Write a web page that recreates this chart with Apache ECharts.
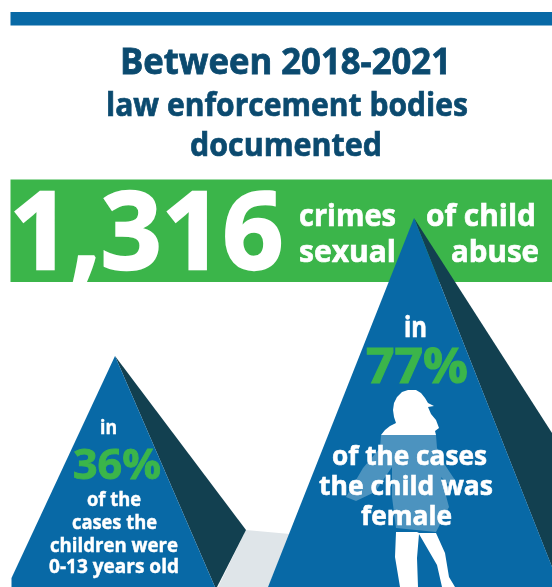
<!DOCTYPE html>
<html>
<head>
<meta charset="utf-8">
<style>html,body{margin:0;padding:0;background:#fff}#chart{width:552px;height:587px}</style>
<script src="https://cdn.jsdelivr.net/npm/echarts@6/dist/echarts.min.js"></script>
</head>
<body>
<div id="chart"></div>
<script>
// Figures reported for the period
const totalCrimes = 1316;
const caseShares = [36, 77];

// Wording
const titleLines = ['Between 2018-2021', 'law enforcement bodies', 'documented'];
const bannerWords = ['crimes', 'sexual', 'of child', 'abuse'];
const youngLines = ['of the', 'cases the', 'children were', '0-13 years old'];
const femaleLines = ['of the cases', 'the child was', 'female'];

const BLUE = '#0869a6', DARK = '#124050', GREEN = '#3bb54a', NAVY = '#0b4a6f', MIST = '#dfe5e9', VEIL = '#4c93bf';
const FAMILY = '"Open Sans", sans-serif';
const ruler = document.createElement('canvas').getContext('2d');

// One line of text: centre x, baseline y, font size, target width, colour
function line(text, cx, base, size, width, fill) {
  const font = 'bold ' + size + 'px ' + FAMILY;
  ruler.font = font;
  return { text: text, cx: cx, base: base, size: size, sx: width / ruler.measureText(text).width, font: font, fill: fill };
}

const textRows = [
  line(titleLines[0], 285.5, 74.5, 36, 331, NAVY),
  line(titleLines[1], 287, 116.5, 32, 362, NAVY),
  line(titleLines[2], 286, 156.5, 32, 192, NAVY),
  line(totalCrimes.toLocaleString('en-US'), 146.5, 271, 108, 274, '#fff'),
  line(bannerWords[0], 347.5, 226.5, 31, 97, '#fff'),
  line(bannerWords[1], 347.5, 262.5, 31, 97, '#fff'),
  line(bannerWords[2], 481, 226.5, 31, 110, '#fff'),
  line(bannerWords[3], 495, 262.5, 31, 88, '#fff'),
  line('in', 415.5, 337, 28, 23, '#fff'),
  line(caseShares[1] + '%', 417, 384, 48, 102, GREEN),
  line(femaleLines[0], 409.5, 465, 27, 155, '#fff'),
  line(femaleLines[1], 406, 495, 27, 174, '#fff'),
  line(femaleLines[2], 406.5, 525, 27, 91, '#fff'),
  line('in', 108.5, 434, 19, 17, '#fff'),
  line(caseShares[0] + '%', 117, 480, 42, 88, GREEN),
  line(youngLines[0], 114, 506, 20, 54, '#fff'),
  line(youngLines[1], 114.5, 529, 20, 85, '#fff'),
  line(youngLines[2], 114, 552, 20, 128, '#fff'),
  line(youngLines[3], 114, 573, 20, 130, '#fff')
];

// Flat backdrop shapes, drawn in order
const backdrop = [
  { fill: BLUE, pts: [[10.5, 12], [552, 12], [552, 25.5], [10.5, 25.5]] },
  { fill: GREEN, pts: [[10.5, 179.5], [552, 179.5], [552, 282], [10.5, 282]] },
  { fill: MIST, pts: [[246, 530], [290, 534], [268, 587], [218, 587]] }
];

// Two-sided peaks, one per case share
const peaks = [
  { face: [[115, 356], [215, 587], [11.5, 587], [11.5, 578]], side: [[115, 356], [246, 530], [217, 587], [215, 587]] },
  { face: [[414, 218], [560, 587], [268, 587]], side: [[414, 218], [552, 433], [552, 567]] }
];

// Silhouette of the girl, in three parts
const figure = [
  { fill: '#fff', pts: [[381, 435], [385, 430], [390, 426], [396, 423], [394, 417], [393, 410], [394, 403], [397, 397], [402, 392], [408, 390], [416, 390], [421, 393], [425, 398], [428, 403], [434, 406], [428, 407], [431, 414], [436, 420], [439, 428], [435, 431], [436, 435]] },
  { fill: VEIL, pts: [[381, 435], [436, 435], [437, 448], [445, 465], [455, 480], [455, 482], [450, 486], [441, 477], [449, 507], [436, 532], [396, 528], [392, 497], [392, 467], [375, 492], [356, 501], [346, 497], [363, 468], [380, 448]] },
  { fill: '#fff', pts: [[396, 532], [417, 532], [419, 533], [436, 533], [445, 553], [449, 577], [455, 587], [442, 587], [437, 565], [419, 534], [417, 558], [418, 587], [400, 587], [395, 557]] }
];

const polyEl = (api, pts, fill) => ({
  type: 'polygon',
  shape: { points: pts.map(p => api.coord(p)) },
  style: { fill: fill }
});

// Hidden axes span the page so the shapes go through the chart's own scale
const chart = echarts.init(document.getElementById('chart'), null, { renderer: 'canvas' });
chart.setOption({
  animation: false,
  backgroundColor: '#fff',
  grid: { left: 0, right: 0, top: 0, bottom: 0 },
  xAxis: { type: 'value', min: 0, max: 552, show: false },
  yAxis: { type: 'value', min: 0, max: 587, inverse: true, show: false },
  series: [
    {
      type: 'custom', name: 'backdrop', z: 1, silent: true, coordinateSystem: 'cartesian2d',
      data: backdrop.map((b, i) => [i]),
      renderItem: (p, api) => {
        const b = backdrop[api.value(0)];
        return polyEl(api, b.pts, b.fill);
      }
    },
    {
      type: 'custom', name: 'peaks', z: 2, silent: true, coordinateSystem: 'cartesian2d',
      data: caseShares.map((v, i) => [i, v]),
      renderItem: (p, api) => {
        const k = peaks[api.value(0)];
        return { type: 'group', children: [polyEl(api, k.side, DARK), polyEl(api, k.face, BLUE)] };
      }
    },
    {
      type: 'custom', name: 'figure', z: 3, silent: true, coordinateSystem: 'cartesian2d',
      data: figure.map((f, i) => [i]),
      renderItem: (p, api) => {
        const f = figure[api.value(0)];
        return polyEl(api, f.pts, f.fill);
      }
    },
    {
      type: 'custom', name: 'labels', z: 4, silent: true, coordinateSystem: 'cartesian2d',
      data: textRows.map((t, i) => [i]),
      renderItem: (p, api) => {
        const t = textRows[api.value(0)];
        const c = api.coord([t.cx, t.base - 0.3 * t.size]);
        return {
          type: 'text', x: c[0], y: c[1], scaleX: t.sx,
          style: {
            text: t.text, font: t.font, fill: t.fill, align: 'center', verticalAlign: 'middle',
            stroke: t.fill, lineWidth: 0.022 * t.size
          }
        };
      }
    }
  ]
});
</script>
</body>
</html>
